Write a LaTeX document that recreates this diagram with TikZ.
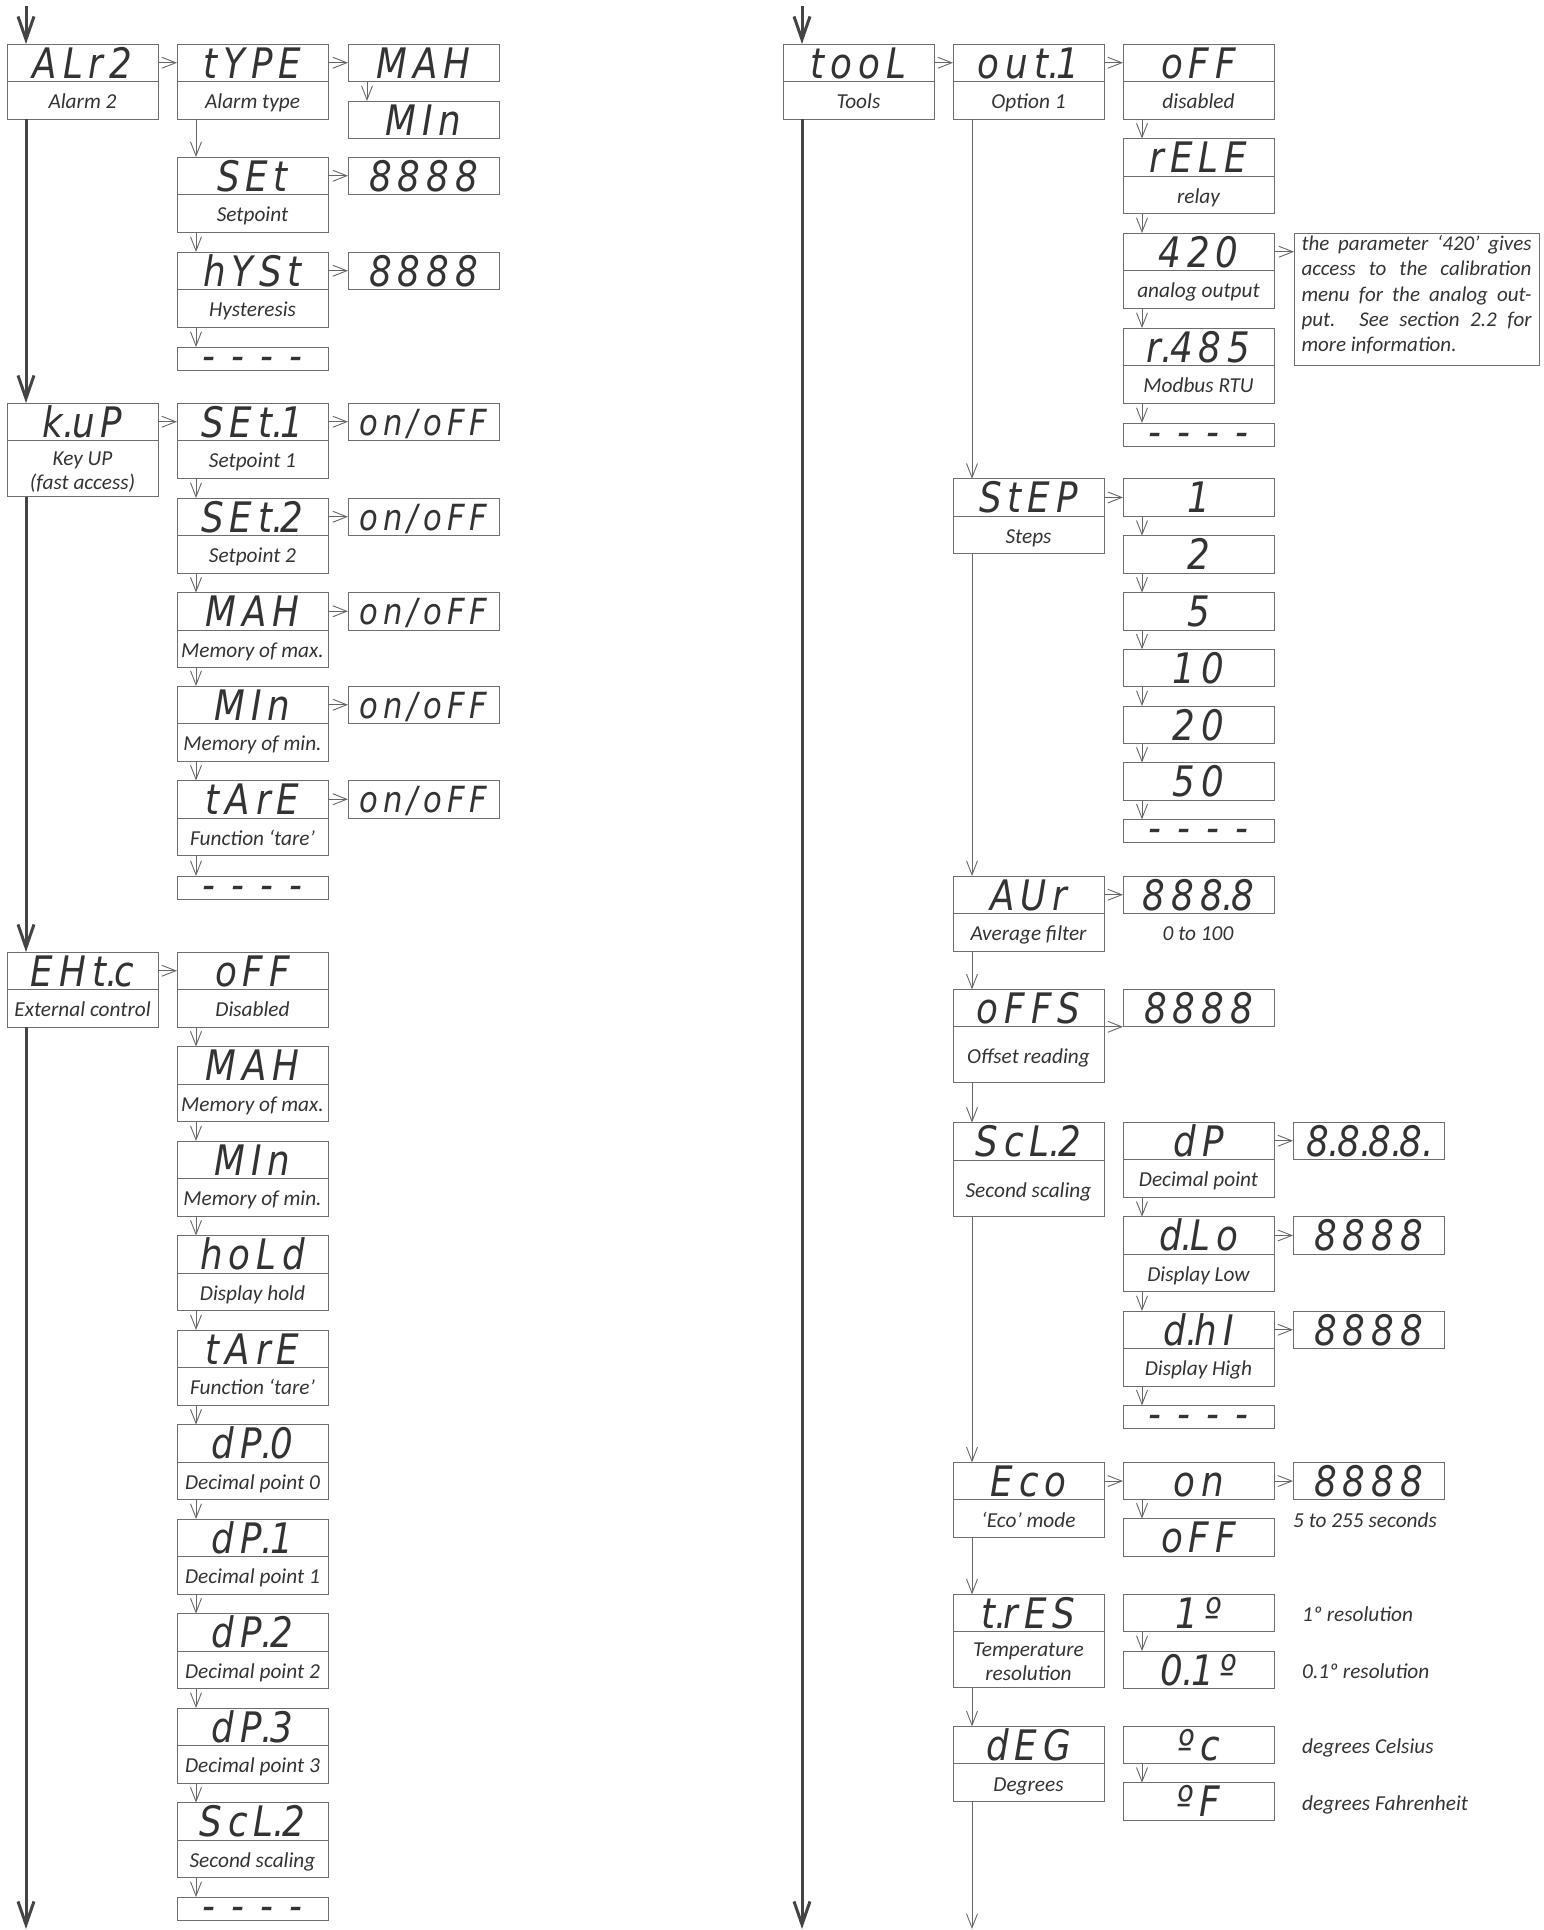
\documentclass[tikz,border=0pt]{standalone}
\usepackage{fontspec}
\setmainfont{Carlito}
\newfontfamily\segfont{DejaVu Sans}[LetterSpace=14,FakeStretch=0.85]
\usetikzlibrary{arrows.meta}
\definecolor{bcol}{HTML}{6E6E6E}
\definecolor{tcol}{HTML}{333333}
\definecolor{lcol}{HTML}{444444}
\definecolor{acol}{HTML}{666666}
\newcommand\segf{\segfont\itshape\fontsize{42}{42}\selectfont}
\newcommand\segs{\segfont\itshape\fontsize{36}{36}\selectfont}
\newcommand\descf{\itshape\fontsize{21.3}{24}\selectfont}
\newcommand\sd{\makebox[8.5pt][l]{.}}
\tikzset{
  disp/.style={draw=bcol, line width=1pt, minimum width=151pt, minimum height=37.5pt,
    inner sep=0pt, outer sep=0pt, text height=31pt, text depth=0pt, font=\segf, text=tcol},
  dispsmall/.style={disp, font=\segs, text height=27pt},
  desc/.style={draw=bcol, line width=1pt, minimum width=151pt, minimum height=37.5pt,
    inner sep=0pt, outer sep=0pt, text height=17pt, text depth=0pt, font=\descf, text=tcol},
  desctall/.style={desc, minimum height=56pt, text height=41pt},
  desctallone/.style={desc, minimum height=56pt, text height=18pt},
  dashbox/.style={draw=bcol, line width=1pt, minimum width=151pt, minimum height=18pt,
    inner sep=0pt, outer sep=0pt, text height=23pt, text depth=0pt, font=\segf, text=tcol},
  notebox/.style={draw=bcol, line width=1pt, inner xsep=7.5pt, inner ysep=0pt, outer sep=0pt,
    text width=230pt, align=justify, text height=17.3pt, text depth=115.3pt,
    font=\itshape\fontsize{21}{25.4}\selectfont, text=tcol},
  conn/.style={draw=acol, line width=0.9pt, -{Straight Barb[length=14pt,width=11pt]}},
  mainline/.style={draw=lcol, line width=3pt, -{Straight Barb[length=23pt,width=16pt]}},
  plain/.style={font=\descf, text=tcol, inner sep=0pt, anchor=base},
}
% name, left, top, display text, description
\newcommand\mkpar[5]{%
  \node[disp, anchor=north west] (#1) at (#2,#3) {#4};
  \node[desc, anchor=north] (#1d) at (#1.south) {#5};}
\newcommand\mkpartall[5]{%
  \node[disp, anchor=north west] (#1) at (#2,#3) {#4};
  \node[desctall, anchor=north] (#1d) at (#1.south) {\begin{tabular}[b]{@{}c@{}}#5\end{tabular}};}
\newcommand\mkparone[5]{%
  \node[disp, anchor=north west] (#1) at (#2,#3) {#4};
  \node[desctallone, anchor=north] (#1d) at (#1.south) {#5};}
\newcommand\mkval[4]{%
  \node[disp, anchor=north west] (#1) at (#2,#3) {#4};}
\newcommand\mkonoff[3]{%
  \node[dispsmall, anchor=north west] (#1) at (#2,#3) {on/oFF};}
\newcommand\mkdash[3]{%
  \node[dashbox, anchor=north west] (#1) at (#2,#3) {-\hspace{16pt}-\hspace{16pt}-\hspace{16pt}-};}
\newcommand\hconn[2]{\draw[conn] (#1.east) -- (#1.east -| #2.west);}
\newcommand\vconn[2]{\draw[conn] ([xshift=19pt]#1.south west) -- ([xshift=19pt]#2.north west);}
\begin{document}
\begin{tikzpicture}[x=1pt,y=-1pt]
\useasboundingbox (0,0) rectangle (1543,1930);
% ---------------- left part ----------------
\mkpar{alr2}{7}{44}{ALr2}{Alarm 2}
\mkpar{type}{177}{44}{tYPE}{Alarm type}
\mkval{omax}{348}{44}{MAH}
\mkval{omin}{348}{101}{MIn}
\mkpar{set}{177}{157}{SEt}{Setpoint}
\mkval{setv}{348}{157}{8888}
\mkpar{hyst}{177}{252}{hYSt}{Hysteresis}
\mkval{hystv}{348}{252}{8888}
\mkdash{endA}{177}{347}
\mkpartall{tup}{7}{403}{k\sd uP}{Key UP\\(fast access)}
\mkpar{set1}{177}{403}{SEt\sd 1}{Setpoint 1}
\mkonoff{set1v}{348}{403}
\mkpar{set2}{177}{498}{SEt\sd 2}{Setpoint 2}
\mkonoff{set2v}{348}{498}
\mkpar{max}{177}{592.5}{MAH}{Memory of max.}
\mkonoff{maxv}{348}{592.5}
\mkpar{min}{177}{686}{MIn}{Memory of min.}
\mkonoff{minv}{348}{686}
\mkpar{tare}{177}{780.5}{tArE}{Function ‘tare’}
\mkonoff{tarev}{348}{780.5}
\mkdash{endB}{177}{876}
\mkpar{ehtc}{7}{952}{EHt\sd c}{External control}
\mkpar{eoff}{177}{952}{oFF}{Disabled}
\mkpar{emax}{177}{1046.5}{MAH}{Memory of max.}
\mkpar{emin}{177}{1141}{MIn}{Memory of min.}
\mkpar{hold}{177}{1235.5}{hoLd}{Display hold}
\mkpar{etare}{177}{1330}{tArE}{Function ‘tare’}
\mkpar{dpz}{177}{1424.5}{dP\sd 0}{Decimal point 0}
\mkpar{dpa}{177}{1519}{dP\sd 1}{Decimal point 1}
\mkpar{dpb}{177}{1613.5}{dP\sd 2}{Decimal point 2}
\mkpar{dpc}{177}{1708}{dP\sd 3}{Decimal point 3}
\mkpar{escl}{177}{1802.5}{ScL\sd 2}{Second scaling}
\mkdash{endC}{177}{1897}
\coordinate (topL) at (26,6);
\coordinate (botL) at (26,1929);
\draw[mainline] (topL) -- ([xshift=19pt]alr2.north west);
\draw[mainline] ([xshift=19pt]alr2d.south west) -- ([xshift=19pt]tup.north west);
\draw[mainline] ([xshift=19pt]tupd.south west) -- ([xshift=19pt]ehtc.north west);
\draw[mainline] ([xshift=19pt]ehtcd.south west) -- (botL);
\hconn{alr2}{type}\hconn{type}{omax}\hconn{set}{setv}\hconn{hyst}{hystv}
\hconn{tup}{set1}\hconn{set1}{set1v}\hconn{set2}{set2v}\hconn{max}{maxv}
\hconn{min}{minv}\hconn{tare}{tarev}\hconn{ehtc}{eoff}
\vconn{typed}{set}\vconn{omax}{omin}\vconn{setd}{hyst}\vconn{hystd}{endA}
\vconn{set1d}{set2}\vconn{set2d}{max}\vconn{maxd}{min}\vconn{mind}{tare}\vconn{tared}{endB}
\vconn{eoffd}{emax}\vconn{emaxd}{emin}\vconn{emind}{hold}\vconn{holdd}{etare}
\vconn{etared}{dpz}\vconn{dpzd}{dpa}\vconn{dpad}{dpb}\vconn{dpbd}{dpc}\vconn{dpcd}{escl}
\vconn{escld}{endC}
% ---------------- right part ----------------
\mkpar{tool}{783}{44}{tooL}{Tools}
\mkpar{out}{953}{44}{out\sd 1}{Option 1}
\mkpar{ooff}{1123}{44}{oFF}{disabled}
\mkpar{rele}{1123}{138.5}{rELE}{relay}
\mkpar{aout}{1123}{233}{420}{analog output}
\mkpar{rtu}{1123}{328}{r\sd 485}{Modbus RTU}
\mkdash{endD}{1123}{423}
\node[notebox, anchor=north west] (note) at (1294,233)
  {the parameter ‘420’ gives\linebreak access to the calibration\linebreak menu for the analog out-\linebreak put. See section 2.2 for\linebreak more information.};
\mkpar{step}{953}{478.7}{StEP}{Steps}
\mkval{sa}{1123}{478.7}{1}
\mkval{sb}{1123}{535.7}{2}
\mkval{sc}{1123}{592.5}{5}
\mkval{sd}{1123}{649.3}{10}
\mkval{se}{1123}{706}{20}
\mkval{sf}{1123}{762.5}{50}
\mkdash{endE}{1123}{819.3}
\mkpar{aur}{953}{876}{AUr}{Average filter}
\mkval{aurv}{1123}{876}{888\sd 8}
\node[plain] (labavg) at (1198,940) {0 to 100};
\mkparone{offs}{953}{989.3}{oFFS}{Offset reading}
\mkval{offsv}{1123}{989.3}{8888}
\mkparone{scl}{953}{1122.5}{ScL\sd 2}{Second scaling}
\mkpar{dp}{1123}{1122}{dP}{Decimal point}
\mkval{dpv}{1293}{1122}{8\sd 8\sd 8\sd 8\sd}
\mkpar{dlo}{1123}{1216.7}{d\sd Lo}{Display Low}
\mkval{dlov}{1293}{1216.7}{8888}
\mkpar{dhi}{1123}{1311}{d\sd hI}{Display High}
\mkval{dhiv}{1293}{1311}{8888}
\mkdash{endF}{1123}{1405.3}
\mkpar{eco}{953}{1462.3}{Eco}{‘Eco’ mode}
\mkval{eon}{1123}{1462.3}{on}
\mkval{eonv}{1293}{1462.3}{8888}
\node[plain] (labsec) at (1365,1527) {5 to 255 seconds};
\mkval{eoffv}{1123}{1518.5}{oFF}
\mkpartall{tres}{953}{1594.3}{t\sd rES}{Temperature\\resolution}
\mkval{resa}{1123}{1594.3}{1º}
\mkval{resb}{1123}{1651}{0\sd 1º}
\node[plain, anchor=base west] (labra) at (1302,1621.5) {1º resolution};
\node[plain, anchor=base west] (labrb) at (1302,1678) {0.1º resolution};
\mkpar{deg}{953}{1726.3}{dEG}{Degrees}
\mkval{degc}{1123}{1726.3}{ºc}
\mkval{degf}{1123}{1782.7}{ºF}
\node[plain, anchor=base west] (labc) at (1302,1753) {degrees Celsius};
\node[plain, anchor=base west] (labf) at (1302,1810) {degrees Fahrenheit};
\coordinate (topR) at (802,6);
\coordinate (botR) at (802,1929);
\coordinate (botS) at (972,1929);
\draw[mainline] (topR) -- ([xshift=19pt]tool.north west);
\draw[mainline] ([xshift=19pt]toold.south west) -- (botR);
\hconn{tool}{out}\hconn{out}{ooff}\hconn{aout}{note}\hconn{step}{sa}
\hconn{aur}{aurv}\hconn{dp}{dpv}\hconn{dlo}{dlov}\hconn{dhi}{dhiv}
\hconn{eco}{eon}\hconn{eon}{eonv}
\draw[conn] (offs.south east) -- (offs.south east -| offsv.west);
\vconn{ooffd}{rele}\vconn{reled}{aout}\vconn{aoutd}{rtu}\vconn{rtud}{endD}
\vconn{outd}{step}
\vconn{sa}{sb}\vconn{sb}{sc}\vconn{sc}{sd}\vconn{sd}{se}\vconn{se}{sf}\vconn{sf}{endE}
\vconn{stepd}{aur}\vconn{aurd}{offs}\vconn{offsd}{scl}
\vconn{dpd}{dlo}\vconn{dlod}{dhi}\vconn{dhid}{endF}
\vconn{scld}{eco}\vconn{eon}{eoffv}\vconn{ecod}{tres}
\vconn{resa}{resb}\vconn{tresd}{deg}\vconn{degc}{degf}
\draw[conn] ([xshift=19pt]degd.south west) -- (botS);
\end{tikzpicture}
\end{document}
